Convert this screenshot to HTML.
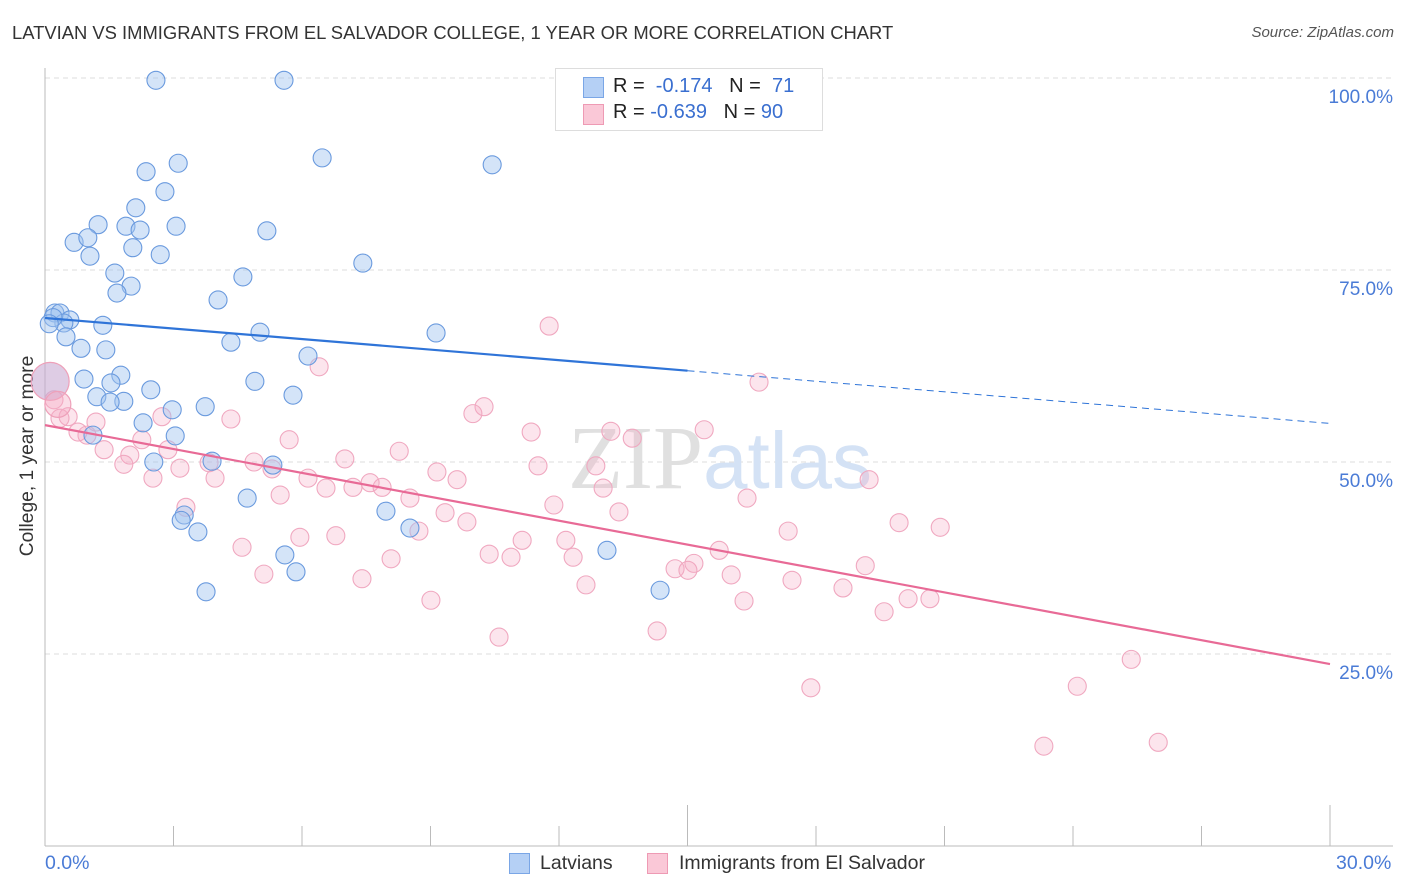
<!DOCTYPE html>
<html><head><meta charset="utf-8"><style>
body{margin:0;background:#fff;font-family:"Liberation Sans",sans-serif;}
#wrap{position:relative;width:1406px;height:892px;overflow:hidden;}
.t{position:absolute;white-space:nowrap;}
</style></head><body>
<div id="wrap">
<div class="t" style="left:12px;top:22px;font-size:18.4px;color:#333;">LATVIAN VS IMMIGRANTS FROM EL SALVADOR COLLEGE, 1 YEAR OR MORE CORRELATION CHART</div>
<div class="t" style="right:12px;top:24px;font-size:15px;color:#555;font-style:italic;">Source: ZipAtlas.com</div>
<div class="t" style="left:28px;top:456px;font-size:19.2px;color:#333;transform:translate(-50%,-50%) rotate(-90deg);">College, 1 year or more</div>
<svg id="svg" width="1406" height="892" style="position:absolute;left:0;top:0;"></svg>
<div style="position:absolute;left:555px;top:68px;width:266px;height:61px;border:1px solid #ddd;background:#fff;">
 <div style="position:absolute;left:27px;top:8px;width:19px;height:19px;background:#b5d0f5;border:1px solid #7aa6e6;"></div>
 <div class="t" style="left:57px;top:6px;font-size:20px;color:#222;">R = &nbsp;<span style="color:#3a6fd0">-0.174</span>&nbsp;&nbsp; N = &nbsp;<span style="color:#3a6fd0">71</span></div>
 <div style="position:absolute;left:27px;top:35px;width:19px;height:19px;background:#fac8d7;border:1px solid #ee9ab4;"></div>
 <div class="t" style="left:57px;top:32px;font-size:20px;color:#222;">R = <span style="color:#3a6fd0">-0.639</span>&nbsp;&nbsp; N = <span style="color:#3a6fd0">90</span></div>
</div>
<div class="t" style="left:45px;top:852px;font-size:19.5px;color:#4a7bd6;">0.0%</div>
<div class="t" style="left:1336px;top:852px;font-size:19.5px;color:#4a7bd6;">30.0%</div>
<div style="position:absolute;left:509px;top:853px;width:19px;height:19px;background:#b5d0f5;border:1px solid #7aa6e6;"></div>
<div class="t" style="left:540px;top:852px;font-size:19.5px;color:#333;">Latvians</div>
<div style="position:absolute;left:647px;top:853px;width:19px;height:19px;background:#fac8d7;border:1px solid #ee9ab4;"></div>
<div class="t" style="left:679px;top:852px;font-size:19.5px;color:#333;">Immigrants from El Salvador</div>
</div>
<script>
const yTicks=[100,75,50,25];
const yTickLabels=["100.0%","75.0%","50.0%","25.0%"];
const blueX=[2.59,5.58,6.47,10.44,2.36,3.11,2.80,2.12,1.24,1.89,2.22,3.06,5.18,0.68,1.00,2.05,2.69,1.05,7.42,1.63,4.62,2.01,1.68,4.04,0.23,0.35,0.58,0.44,1.35,5.02,9.13,0.49,4.34,0.84,1.42,6.14,0.91,1.77,1.54,4.90,2.47,1.21,1.84,5.79,1.52,3.74,2.97,2.29,1.12,3.04,2.54,3.90,5.32,4.72,7.96,3.25,3.18,8.52,3.57,5.60,13.12,5.86,3.76,14.36,0.19,0.1];
const blueY=[99.7,99.7,89.6,88.7,87.8,88.9,85.2,83.1,80.9,80.7,80.2,80.7,80.1,78.6,79.2,77.9,77.0,76.8,75.9,74.6,74.1,72.9,72.0,71.1,69.4,69.4,68.5,68.1,67.8,66.9,66.8,66.3,65.6,64.8,64.6,63.8,60.8,61.3,60.3,60.5,59.4,58.5,57.9,58.7,57.8,57.2,56.8,55.1,53.5,53.4,50.0,50.1,49.6,45.3,43.6,43.1,42.4,41.4,40.9,37.9,38.5,35.7,33.1,33.3,68.8,68.0];
const pinkX=[11.77,16.67,6.40,10.25,9.99,4.34,2.73,1.19,0.54,0.77,0.98,11.35,13.21,15.39,13.71,2.26,1.38,1.98,2.87,8.27,3.83,4.88,7.00,11.51,12.86,1.84,5.30,3.15,9.15,6.14,9.62,2.52,3.97,7.19,7.87,7.59,6.56,13.03,8.52,5.49,16.39,19.24,11.88,13.40,9.34,9.85,3.29,8.73,5.70,19.94,20.90,17.35,4.60,5.95,6.79,11.14,10.37,12.16,10.88,12.33,8.08,15.74,15.15,14.71,15.01,16.02,5.11,7.40,12.63,17.44,18.63,19.15,20.15,20.66,16.32,9.01,19.59,14.29,10.60,25.36,24.10,17.88,25.99,23.32,0.35,0.21];
const pinkY=[67.7,60.4,62.4,57.2,56.3,55.6,55.9,55.2,55.9,53.9,53.5,53.9,54.0,54.2,53.1,52.9,51.6,50.9,51.6,51.4,49.9,50.0,50.4,49.5,49.5,49.7,49.1,49.2,48.7,47.9,47.7,47.9,47.9,46.7,46.7,47.3,46.6,46.6,45.3,45.7,45.3,47.7,44.4,43.5,43.4,42.2,44.1,41.0,52.9,42.1,41.5,41.0,38.9,40.2,40.4,39.8,38.0,39.8,37.6,37.6,37.4,38.5,36.8,36.1,35.9,35.3,35.4,34.8,34.0,34.6,33.6,36.5,32.2,32.2,31.9,32.0,30.5,28.0,27.2,24.3,20.8,20.6,13.5,13.0,55.7,58.1];
const bigPinkX=[0.12,0.3];
const bigPinkY=[60.5,57.5];
const blueTrend=[68.75,-0.4576];
const pinkTrend=[54.8,-1.037];
const blueSolidEnd=15;
const ns="http://www.w3.org/2000/svg";
const svg=document.getElementById('svg');
const X0=45,X1=1330,Y0=846,PX=7.68;
const xs=v=>X0+v/30*(X1-X0);
const ys=v=>Y0-v*PX;
function mk(tag,attrs){const e=document.createElementNS(ns,tag);for(const k in attrs)e.setAttribute(k,attrs[k]);svg.appendChild(e);return e;}
yTicks.forEach((t,i)=>{
 const g=mk('line',{x1:X0,x2:1393,y1:ys(t),y2:ys(t),stroke:'#ddd','stroke-dasharray':'5,4'});
 
 
 const tx=mk('text',{x:1393,y:ys(t)+25,'text-anchor':'end','font-size':19,fill:'#4a7bd6','font-family':'Liberation Sans, sans-serif'});
 tx.textContent=yTickLabels[i];
 
 
});
const ya=mk('line',{x1:X0,x2:X0,y1:68,y2:Y0,stroke:'#bbb'});


const xa=mk('line',{x1:X0,x2:1393,y1:Y0,y2:Y0,stroke:'#bbb'});


for(let k=1;k<=10;k++){
 const x=xs(k*3);const tall=(k===5||k===10);
 const tk=mk('line',{x1:x,x2:x,y1:tall?805:826,y2:Y0,stroke:'#bbb'});
 
 
}
const wm=mk('text',{x:720,y:488,'text-anchor':'middle','font-size':90,'font-family':'Liberation Serif, serif',fill:'#e0e0e0'});
wm.innerHTML='ZIP<tspan fill="#d4e2f5" font-family="Liberation Sans, sans-serif" font-size="80">atlas</tspan>';


pinkX.forEach((v,i)=>{
 const c=mk('circle',{cx:xs(v),cy:ys(pinkY[i]),r:9,fill:'rgba(246,170,196,0.3)',stroke:'#f0a8c0','stroke-width':1.1});
 
 
});
bigPinkX.forEach((v,i)=>{
 const c=mk('circle',{cx:xs(v),cy:ys(bigPinkY[i]),r:i===0?19:13,fill:i===0?'rgba(200,170,210,0.6)':'rgba(246,170,196,0.4)',stroke:'#eea0b9','stroke-width':1.2});
 
 
});
blueX.forEach((v,i)=>{
 const c=mk('circle',{cx:xs(v),cy:ys(blueY[i]),r:9,fill:'rgba(160,196,240,0.45)',stroke:'#6a9ade','stroke-width':1.1});
 
 
});
const bt=(x)=>blueTrend[0]+blueTrend[1]*x;
const pt=(x)=>pinkTrend[0]+pinkTrend[1]*x;
const l1=mk('line',{x1:xs(0),y1:ys(bt(0)),x2:xs(blueSolidEnd),y2:ys(bt(blueSolidEnd)),stroke:'#2f74d8','stroke-width':2.2});


const l2=mk('line',{x1:xs(blueSolidEnd),y1:ys(bt(blueSolidEnd)),x2:xs(30),y2:ys(bt(30)),stroke:'#2f74d8','stroke-width':1,'stroke-dasharray':'7,5'});


const l3=mk('line',{x1:xs(0),y1:ys(pt(0)),x2:xs(30),y2:ys(pt(30)),stroke:'#e86a96','stroke-width':2.2});


</script>
</body></html>
